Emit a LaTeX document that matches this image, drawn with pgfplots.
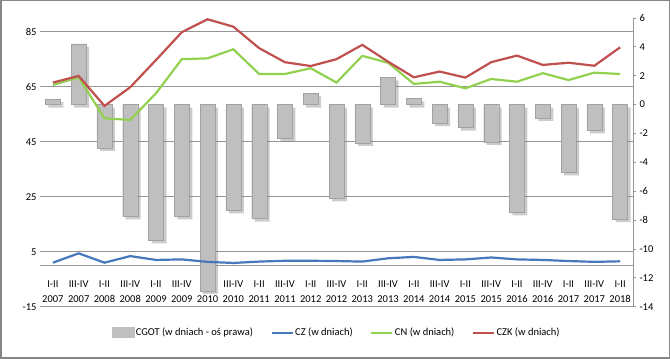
\documentclass[border=0pt]{standalone}
\usepackage{pgfplots}
\usepackage{pgfplotstable}
\pgfplotsset{compat=1.18}
\usepackage{fontspec}
\setmainfont{Carlito}

\definecolor{barc}{RGB}{191,191,191}
\definecolor{shadc}{RGB}{110,110,110}
\definecolor{czc}{RGB}{70,120,190}
\definecolor{cnc}{RGB}{146,208,80}
\definecolor{czkc}{RGB}{192,80,77}
\definecolor{gridc}{RGB}{150,150,150}
\definecolor{framec}{RGB}{134,134,134}

\pgfplotstableread{
x cgot cz cn czk
0 0.37 1.0 65.6 66.5
1 4.2 4.4 68.4 68.9
2 -3.0 1.0 53.5 58.0
3 -7.75 3.4 52.9 64.8
4 -9.4 2.0 62.6 74.7
5 -7.75 2.2 75.0 84.8
6 -12.9 1.3 75.3 89.5
7 -7.33 0.9 78.6 86.8
8 -7.9 1.4 69.6 79.0
9 -2.35 1.7 69.6 73.9
10 0.78 1.7 71.7 72.5
11 -6.5 1.6 66.5 75.0
12 -2.66 1.4 76.2 80.2
13 1.88 2.6 73.7 74.1
14 0.43 3.1 66.0 68.4
15 -1.28 2.0 66.8 70.5
16 -1.6 2.2 64.4 68.3
17 -2.59 2.9 67.8 73.9
18 -7.47 2.2 66.8 76.3
19 -0.92 2.0 69.9 72.9
20 -4.7 1.6 67.4 73.7
21 -1.79 1.3 70.1 72.6
22 -7.93 1.5 69.6 79.3
}\data

\pgfplotsset{base/.style={scale only axis, width=593pt, height=288.8pt,
  at={(40pt,52.3pt)}, anchor=south west, xmin=-0.5, xmax=22.5,
  tick label style={font=\fontsize{10.5}{15}\selectfont},
  /pgf/number format/assume math mode=true}}

\begin{document}
\begin{tikzpicture}
\useasboundingbox (0,0) rectangle (670pt,359pt);
\draw[framec, line width=1.5pt] (0.75pt,0.75pt) rectangle (669.25pt,358.25pt);

% left scale: grid, labels, category axis
\begin{axis}[base, ymin=-15, ymax=90, ytick={-15,5,25,45,65,85},
  ymajorgrids, grid style={gridc, line width=0.7pt},
  axis x line*=middle, axis y line*=left,
  y axis line style={draw=none}, ytick style={draw=none},
  xtick={0,...,22}, xtick style={draw=none},
  x axis line style={gridc, line width=0.7pt, -},
  xticklabel style={align=center, yshift=-12pt},
  xticklabels={I-II\\2007, III-IV\\2007, I-II\\2008, III-IV\\2008, I-II\\2009, III-IV\\2009, I-II\\2010, III-IV\\2010, I-II\\2011, III-IV\\2011, I-II\\2012, III-IV\\2012, I-II\\2013, III-IV\\2013, I-II\\2014, III-IV\\2014, I-II\\2015, III-IV\\2015, I-II\\2016, III-IV\\2016, I-II\\2017, III-IV\\2017, I-II\\2018}]
\addplot[draw=none, forget plot] coordinates {(0,0)};
\end{axis}

% right scale: bars
\begin{axis}[base, ymin=-14, ymax=6, ytick={-14,-12,...,6},
  axis y line*=right, axis x line=none,
  y axis line style={gridc, line width=0.7pt}, ytick style={gridc, line width=0.7pt},
  tick align=outside, major tick length=3pt]
\addplot[ybar, bar width=15pt, bar shift=0pt, fill=shadc, draw=none, opacity=0.35,
  xshift=3pt, yshift=-3pt, forget plot] table[x=x,y=cgot]{\data};
\addplot[ybar, bar width=15pt, bar shift=0pt, fill=barc, draw=barc!85!black,
  line width=0.3pt, forget plot] table[x=x,y=cgot]{\data};
\end{axis}

% left scale: lines and legend
\begin{axis}[base, ymin=-15, ymax=90, hide axis,
  legend style={at={(0.5,-0.09)}, anchor=center, legend columns=4, draw=none, fill=none,
    font=\fontsize{10.5}{15}\selectfont, inner sep=0pt,
    nodes={inner sep=1.5pt},
    /tikz/every even column/.style={column sep=16pt}},
  legend image code/.code={\draw[#1] (0pt,0pt) -- (21pt,0pt);}]
\addlegendimage{legend image code/.code={\fill[barc] (0pt,-5pt) rectangle (22pt,5pt);}}
\addlegendentry{CGOT (w dniach - oś prawa)}
\addplot[czc, line width=2.2pt] table[x=x,y=cz]{\data};
\addlegendentry{CZ (w dniach)}
\addplot[cnc, line width=2.2pt] table[x=x,y=cn]{\data};
\addlegendentry{CN (w dniach)}
\addplot[czkc, line width=2.2pt] table[x=x,y=czk]{\data};
\addlegendentry{CZK (w dniach)}
\end{axis}
\end{tikzpicture}
\end{document}
